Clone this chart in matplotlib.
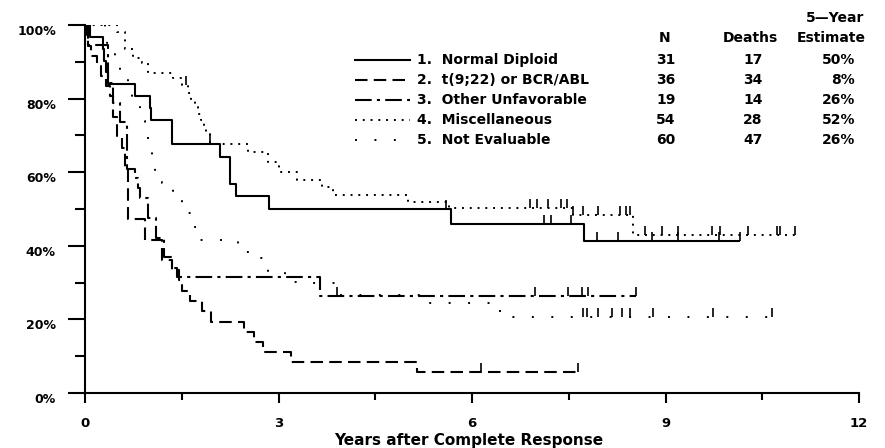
import numpy as np
import matplotlib
matplotlib.use("Agg")
import matplotlib.pyplot as plt
from matplotlib.lines import Line2D

# step curves: event times (years) and survival (%) after each step, last follow-up
t_normal = [0.08, 0.28, 0.30, 0.32, 0.35, 0.78, 1.00, 1.02, 1.35, 2.10, 2.25, 2.34, 2.86, 5.67, 7.74]
s_normal = [96.8, 93.5, 90.3, 87.1, 83.9, 80.6, 77.4, 74.2, 67.7, 64.0, 56.8, 53.5, 50.0, 46.0, 41.2]
end_normal = 10.16
c_normal = [5.60, 7.12, 7.22, 7.53, 7.94, 8.26, 8.79, 9.20, 9.83, 10.16]

t_bcr = [0.03, 0.05, 0.10, 0.18, 0.25, 0.33, 0.38, 0.43, 0.50, 0.58, 0.62, 0.66, 0.93, 1.20,
         1.35, 1.45, 1.50, 1.63, 1.81, 1.95, 2.47, 2.62, 2.76, 3.19, 5.14]
s_bcr = [97.2, 94.4, 91.7, 88.9, 86.1, 83.3, 80.6, 75.0, 69.4, 66.7, 61.1, 47.2, 41.7, 36.1,
         33.3, 30.6, 27.8, 25.0, 22.2, 19.4, 16.7, 13.9, 11.1, 8.3, 5.6]
end_bcr = 7.65
c_bcr = [6.14, 7.65]

t_unfav = [0.05, 0.36, 0.43, 0.54, 0.65, 0.78, 0.82, 0.85, 0.98, 1.10, 1.22, 1.35, 1.42, 3.64]
s_unfav = [94.7, 84.2, 78.9, 73.7, 61.0, 58.5, 55.8, 53.0, 47.5, 42.1, 37.0, 34.0, 31.6, 26.3]
end_unfav = 8.55
c_unfav = [3.90, 6.98, 7.49, 7.70, 7.80, 8.55]

t_misc = [0.49, 0.62, 0.74, 0.88, 0.98, 1.36, 1.50, 1.60, 1.65, 1.70, 1.75, 1.80, 1.85, 1.88,
          1.94, 2.53, 2.84, 3.00, 3.29, 3.67, 3.85, 5.00, 5.65, 7.57, 8.50]
s_misc = [98.0, 93.5, 91.0, 89.6, 87.0, 85.6, 83.7, 81.5, 79.6, 77.8, 75.9, 74.1, 72.2, 70.4,
          67.7, 65.5, 62.8, 60.0, 58.0, 56.0, 53.7, 51.8, 50.2, 48.4, 43.0]
end_misc = 11.04
c_misc = [0.42, 1.57, 1.94, 6.90, 7.00, 7.18, 7.38, 7.47, 7.57, 7.72, 7.95, 8.30, 8.38, 8.45,
          8.68, 8.94, 9.20, 9.72, 9.85, 10.28, 10.73, 10.78, 11.01]

t_noteval = [0.31, 0.34, 0.42, 0.47, 0.54, 0.62, 0.67, 0.73, 0.78, 0.85, 0.93, 0.98, 1.04, 1.09,
             1.19, 1.36, 1.43, 1.50, 1.67, 1.74, 2.37, 2.40, 2.56, 2.84, 3.10, 3.38, 3.88, 5.20, 6.43]
s_noteval = [97.8, 95.0, 92.0, 89.6, 87.8, 85.0, 83.0, 80.5, 77.7, 74.0, 70.6, 68.0, 64.0, 60.6,
             57.0, 55.0, 52.4, 49.0, 45.0, 41.6, 40.2, 38.3, 36.7, 32.9, 30.2, 29.9, 26.7, 24.5, 20.6]
end_noteval = 10.65
c_noteval = [7.72, 7.78, 7.95, 8.17, 8.33, 8.45, 8.81, 9.74, 10.65]

labels = ["1.  Normal Diploid", "2.  t(9;22) or BCR/ABL", "3.  Other Unfavorable",
          "4.  Miscellaneous", "5.  Not Evaluable"]
n_pts = ["31", "36", "19", "54", "60"]
deaths = ["17", "34", "14", "28", "47"]
est5 = ["50%", "8%", "26%", "52%", "26%"]

styles = [dict(ls="-", lw=1.5),
          dict(ls=(0, (6, 3)), lw=1.5),
          dict(ls=(0, (8, 2.5, 1.5, 2.5)), lw=1.5),
          dict(ls=(0, (1, 3)), lw=1.4),
          dict(ls=(0, (1, 9)), lw=1.4)]

curves = [(t_normal, s_normal, end_normal, c_normal),
          (t_bcr, s_bcr, end_bcr, c_bcr),
          (t_unfav, s_unfav, end_unfav, c_unfav),
          (t_misc, s_misc, end_misc, c_misc),
          (t_noteval, s_noteval, end_noteval, c_noteval)]

W, H = 885, 448
fig = plt.figure(figsize=(W / 100, H / 100), dpi=100)
ax = fig.add_axes([85 / W, 1 - 393 / H, (859 - 85) / W, (393 - 25) / H])

for (tt, ss, end, cens), st in zip(curves, styles):
    x = np.array([0.0] + tt + [end])
    y = np.array([100.0] + ss + [ss[-1]])
    ax.step(x, y, where="post", color="black", solid_capstyle="butt", **st)
    # censor ticks
    idx = np.searchsorted(x, cens, side="right") - 1
    sy = y[idx]
    ax.vlines(cens, sy, sy + 2.5, color="black", lw=1.2)

ax.set_xlim(0, 12)
ax.set_ylim(0, 100)
ax.set_xticks([0, 3, 6, 9, 12])
ax.set_xticks([1.5, 4.5, 7.5, 10.5], minor=True)
ax.set_yticks([0, 20, 40, 60, 80, 100])
ax.set_yticks([10, 30, 50, 70, 90], minor=True)
ax.set_yticklabels(["0%", "20%", "40%", "60%", "80%", "100%"])
ax.tick_params(axis="y", which="major", length=12, width=1.5, pad=9, labelsize=9)
ax.tick_params(axis="y", which="minor", length=7, width=1.5)
ax.tick_params(axis="x", which="major", length=7, width=1.5, pad=10, labelsize=9.5)
ax.tick_params(axis="x", which="minor", length=5, width=1.5)
for lab in ax.get_yticklabels() + ax.get_xticklabels():
    lab.set_fontweight("bold")
plt.setp(ax.get_yticklabels(), va="top")
for side in ["top", "right"]:
    ax.spines[side].set_visible(False)
for side in ["left", "bottom"]:
    ax.spines[side].set_linewidth(1.5)
ax.set_xlabel("Years after Complete Response", fontsize=11, fontweight="bold")
ax.xaxis.label.set_va("center")
ax.xaxis.set_label_coords((469 - 85) / (859 - 85), -(440 - 393) / (393 - 25))


def fx(px):
    return px / W


def fy(py):
    return 1 - py / H


txt = dict(fontsize=10, fontweight="bold", va="center")
fig.text(fx(835), fy(18), "5\u2014Year", ha="center", **txt)
fig.text(fx(665), fy(38), "N", ha="center", **txt)
fig.text(fx(750), fy(38), "Deaths", ha="center", **txt)
fig.text(fx(831), fy(38), "Estimate", ha="center", **txt)

for i, st in enumerate(styles):
    py = 60 + 20 * i
    fig.add_artist(Line2D([fx(355), fx(410)], [fy(py), fy(py)], color="black", **st))
    fig.text(fx(417), fy(py), labels[i], ha="left", **txt)
    fig.text(fx(666), fy(py), n_pts[i], ha="center", **txt)
    fig.text(fx(753), fy(py), deaths[i], ha="center", **txt)
    fig.text(fx(855), fy(py), est5[i], ha="right", **txt)

fig.savefig("out.png", dpi=100, facecolor="white")
